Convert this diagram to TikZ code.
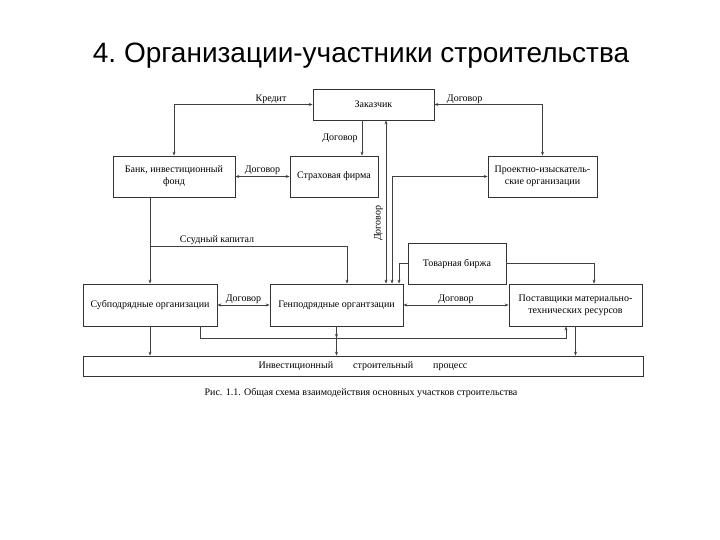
\documentclass[tikz,border=0pt]{standalone}
\usepackage{fontspec}
\setmainfont{Liberation Serif}
\newfontfamily\headfont{Liberation Sans}
\usetikzlibrary{arrows.meta}

\begin{document}
\begin{tikzpicture}[x=1pt,y=-1pt,
    box/.style={draw=black!80,line width=0.7pt,inner sep=1pt,align=center,
      font=\fontsize{10}{12}\selectfont},
    link/.style={draw=black!75,line width=0.7pt,-{Stealth[length=4pt,width=3pt]}},
    both/.style={link,{Stealth[length=4pt,width=3pt]}-{Stealth[length=4pt,width=3pt]}},
    lbl/.style={font=\fontsize{10}{12}\selectfont,inner sep=1pt}]
    \useasboundingbox[fill=white](0,0) rectangle (720,540);
    \node[font=\headfont\fontsize{28}{32}\selectfont,anchor=base] (title) at (361,63)
      {4.\ Организации-участники строительства};

    \node[box,minimum width=121pt,minimum height=31pt] (zak) at (373.5,104.5) {Заказчик};
    \node[box,minimum width=122pt,minimum height=41pt] (bank) at (174,176.5)
      {Банк, инвестиционный\\фонд};
    \node[box,minimum width=88pt,minimum height=41pt] (strah) at (334,176.5) {Страховая фирма};
    \node[box,minimum width=109pt,minimum height=41pt] (proekt) at (542.5,176.5)
      {Проектно-изыскатель-\\ские организации};
    \node[box,minimum width=98pt,minimum height=41pt] (birzha) at (457,263.5) {Товарная биржа};
    \node[box,minimum width=134pt,minimum height=42pt] (sub) at (150,305) {Субподрядные организации};
    \node[box,minimum width=133pt,minimum height=42pt] (gen) at (336.5,305)
      {Генподрядные органтзации};
    \node[box,minimum width=133pt,minimum height=42pt] (post) at (575.5,305)
      {Поставщики материально-\\технических ресурсов};
    \node[box,minimum width=560pt,minimum height=20pt] (proc) at (363,366)
      {Инвестиционный\hspace{20pt}строительный\hspace{20pt}процесс};
    \node[font=\fontsize{10}{12}\selectfont,inner sep=1pt,anchor=base] (caption) at (361,395)
      {Рис. 1.1. Общая схема взаимодействия основных участков строительства};

    \coordinate (xstrah) at (362,0);
    \coordinate (xzak) at (386,0);
    \coordinate (xproekt) at (392,0);
    \coordinate (xbirzha) at (399,0);
    \coordinate (xpost) at (594,0);
    \coordinate (xssuda) at (347,0);
    \coordinate (yssuda) at (0,246);
    \coordinate (xsub) at (200,0);
    \coordinate (xsnab) at (566,0);
    \coordinate (ylow) at (0,338);

    \draw[both](zak.west) -| (bank.north) node[lbl,pos=0.15,above]{Кредит};
    \draw[both](zak.east) -| (proekt.north) node[lbl,pos=0.14,above]{Договор};
    \draw[link](zak.south -| xstrah) -- (strah.north -| xstrah)
      node[lbl,midway,left=3pt]{Договор};
    \draw[both](bank.east) -- (strah.west) node[lbl,midway,above=1pt]{Договор};
    \draw[both](gen.north -| xzak) -- (zak.south -| xzak)
      node[lbl,pos=0.37,left=2pt,rotate=90,anchor=south]{Договор};
    \draw[both](gen.north -| xproekt) |- (proekt.west);
    \draw[link](birzha.west) -| (gen.north -| xbirzha);
    \draw[link](birzha.east) -| (post.north -| xpost);
    \draw[link](bank.south -| sub.north) -- (sub.north);
    \draw[link](sub.north |- yssuda) -| (gen.north -| xssuda)
      node[lbl,pos=0.17,above]{Ссудный капитал};
    \draw[both](sub.east) -- (gen.west) node[lbl,midway,above]{Договор};
    \draw[both](gen.east) -- (post.west) node[lbl,midway,above]{Договор};
    \draw[link](sub.south) -- (sub.south |- proc.north);
    \draw[link](sub.south -| xsub) -- (xsub |- ylow) -| (post.south -| xsnab);
    \draw[link](gen.south) -- (gen.south |- ylow);
    \draw[link](gen.south) -- (gen.south |- proc.north);
    \draw[link](post.south) -- (post.south |- proc.north);
  \end{tikzpicture}
\end{document}
